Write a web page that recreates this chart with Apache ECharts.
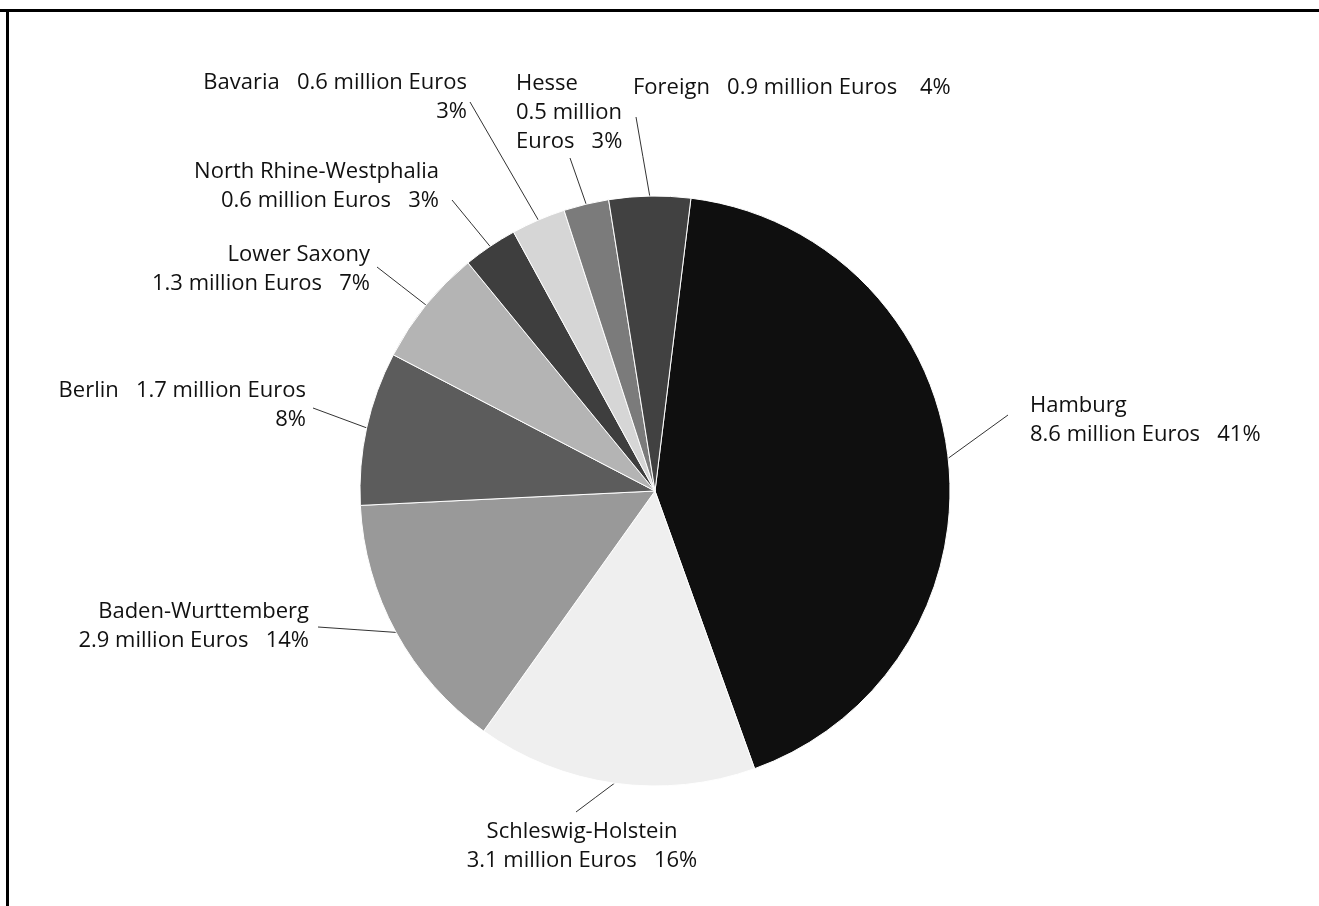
<!DOCTYPE html>
<html>
<head>
<meta charset="utf-8">
<title>Regional distribution</title>
<script src="https://cdn.jsdelivr.net/npm/echarts@6/dist/echarts.min.js"></script>
<style>
  html, body { margin: 0; padding: 0; background: #fff; }
  #chart { width: 1319px; height: 906px; }
</style>
</head>
<body>
<div id="chart"></div>
<script>
// Regions, in drawing order (clockwise from the top)
const regions = ['Hamburg', 'Schleswig-Holstein', 'Baden-Wurttemberg', 'Berlin', 'Lower Saxony',
                 'North Rhine-Westphalia', 'Bavaria', 'Hesse', 'Foreign'];
// Amounts in million Euros
const amounts = [8.6, 3.1, 2.9, 1.7, 1.3, 0.6, 0.6, 0.5, 0.9];
// Printed shares in percent
const shares = [41, 16, 14, 8, 7, 3, 3, 3, 4];

// Grey shades per slice
const shades = ['#0f0f0f', '#efefef', '#999999', '#5c5c5c', '#b4b4b4',
                '#3e3e3e', '#d6d6d6', '#7b7b7b', '#414141'];

// Line-break pattern of each label: {n} name, {v} amount, {p} share
const labelPatterns = [
  '{n}\n{v} million Euros   {p}%',
  '{n}\n{v} million Euros   {p}%',
  '{n}\n{v} million Euros   {p}%',
  '{n}   {v} million Euros\n{p}%',
  '{n}\n{v} million Euros   {p}%',
  '{n}\n{v} million Euros   {p}%',
  '{n}   {v} million Euros\n{p}%',
  '{n}\n{v} million\nEuros   {p}%',
  '{n}   {v} million Euros    {p}%'
];

// Label placement: anchor point, alignment and where the leader line ends
const labelPlacement = [
  { x: 1030, y: 420, align: 'left',   end: [1008, 415] },
  { x: 582,  y: 846, align: 'center', end: [576, 812] },
  { x: 309,  y: 626, align: 'right',  end: [318, 627] },
  { x: 306,  y: 405, align: 'right',  end: [313, 408] },
  { x: 370,  y: 269, align: 'right',  end: [377, 267] },
  { x: 439,  y: 186, align: 'right',  end: [452, 200] },
  { x: 467,  y: 97,  align: 'right',  end: [470, 102] },
  { x: 516,  y: 113, align: 'left',   end: [570, 158] },
  { x: 633,  y: 88,  align: 'left',   end: [636, 117] }
];

function labelText(i) {
  return labelPatterns[i]
    .replace('{n}', regions[i])
    .replace('{v}', amounts[i].toFixed(1))
    .replace('{p}', shares[i]);
}

const chart = echarts.init(document.getElementById('chart'), null, { renderer: 'canvas' });

chart.setOption({
  backgroundColor: '#ffffff',
  animation: false,
  graphic: [
    // frame lines along the top and left edge
    { type: 'rect', shape: { x: 0, y: 9, width: 1319, height: 3 }, style: { fill: '#000' } },
    { type: 'rect', shape: { x: 6, y: 9, width: 3, height: 897 }, style: { fill: '#000' } }
  ],
  series: [{
    type: 'pie',
    center: [655, 491],
    radius: [0, 295],
    startAngle: 83,
    clockwise: true,
    avoidLabelOverlap: false,
    itemStyle: { borderColor: '#ffffff', borderWidth: 1 },
    label: {
      show: true,
      position: 'outside',
      color: '#111111',
      fontFamily: '"Open Sans", sans-serif',
      fontSize: 22,
      lineHeight: 29,
      formatter: p => labelText(p.dataIndex)
    },
    labelLine: {
      show: true,
      length: 20,
      length2: 20,
      lineStyle: { color: '#333333', width: 1 }
    },
    labelLayout: function (params) {
      const pl = labelPlacement[params.dataIndex];
      const start = params.labelLinePoints ? params.labelLinePoints[0] : pl.end;
      const mid = [(start[0] + pl.end[0]) / 2, (start[1] + pl.end[1]) / 2];
      return {
        x: pl.x,
        y: pl.y,
        align: pl.align,
        verticalAlign: 'middle',
        labelLinePoints: [start, mid, pl.end]
      };
    },
    emphasis: { disabled: true },
    data: regions.map((name, i) => ({
      name: name,
      value: amounts[i],
      itemStyle: { color: shades[i] }
    }))
  }]
});
</script>
</body>
</html>
